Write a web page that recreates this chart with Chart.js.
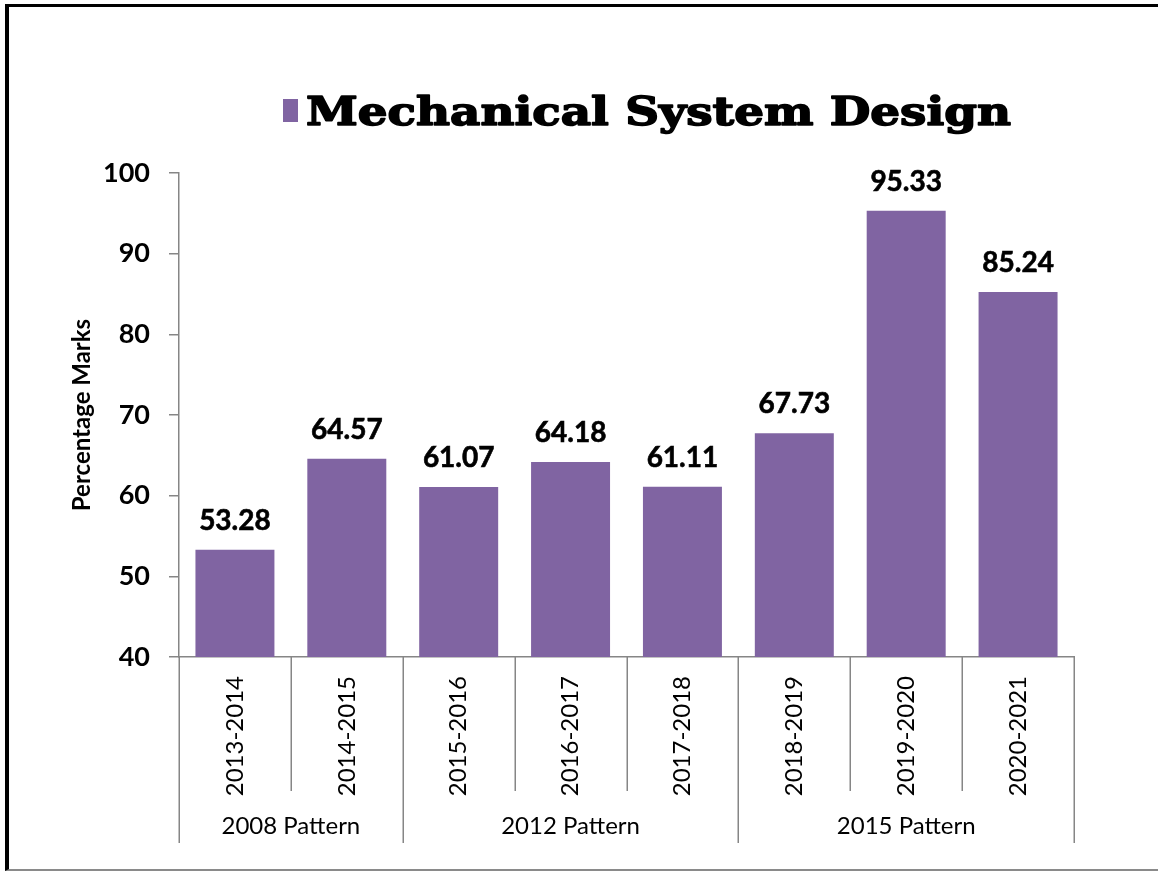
<!DOCTYPE html>
<html>
<head>
<meta charset="utf-8">
<script src="https://cdn.jsdelivr.net/npm/chart.js@4.4.1/dist/chart.umd.min.js"></script>
<style>
  html, body { margin: 0; padding: 0; background: #fff; overflow: hidden; }
  #frame { position: absolute; left: 5px; top: 4px; width: 1200px; height: 867px;
           border-left: 4px solid #000; border-top: 3px solid #000; border-bottom: 2px solid #8a8a8a;
           box-sizing: border-box; }
  #c { position: absolute; left: 0; top: 0; }
</style>
</head>
<body>
<div id="frame"></div>
<canvas id="c" width="1158" height="876"></canvas>
<script>
const categories = ['2013-2014', '2014-2015', '2015-2016', '2016-2017', '2017-2018', '2018-2019', '2019-2020', '2020-2021'];
const values = [53.28, 64.57, 61.07, 64.18, 61.11, 67.73, 95.33, 85.24];
const groupLabels = ['2008 Pattern', '2012 Pattern', '2015 Pattern'];
const groupSpans = [2, 3, 3];
const seriesName = 'Mechanical System Design';
const yMin = 40, yMax = 100, yStep = 10;

const AXIS = '#868686';
const BAR = '#8064A2';

const multiLevelAxis = {
  id: 'multiLevelAxis',
  afterDraw(chart) {
    const ctx = chart.ctx;
    const x = chart.scales.x;
    const top = x.top;
    const n = categories.length;
    const px = i => x.getPixelForTick(i);
    const boundary = i => {
      if (i <= 0) return x.left;
      if (i >= n) return x.right;
      return (px(i - 1) + px(i)) / 2;
    };
    const groupEnds = new Set([0]);
    let acc = 0;
    groupSpans.forEach(s => { acc += s; groupEnds.add(acc); });
    ctx.save();
    ctx.strokeStyle = AXIS;
    ctx.lineWidth = 1.5;
    for (let i = 0; i <= n; i++) {
      const bx = Math.round(boundary(i)) + 0.25;
      ctx.beginPath();
      ctx.moveTo(bx, top);
      ctx.lineTo(bx, groupEnds.has(i) ? 843 : 791);
      ctx.stroke();
    }
    ctx.fillStyle = '#000';
    ctx.font = '24px Lato';
    ctx.textAlign = 'center';
    ctx.textBaseline = 'middle';
    let start = 0;
    groupLabels.forEach((g, k) => {
      const end = start + groupSpans[k];
      const cx = (boundary(start) + boundary(end)) / 2;
      ctx.fillText(g, cx, 826);
      start = end;
    });
    ctx.restore();
  }
};

const valueLabels = {
  id: 'valueLabels',
  afterDatasetsDraw(chart) {
    const ctx = chart.ctx;
    const meta = chart.getDatasetMeta(0);
    ctx.save();
    ctx.fillStyle = '#000';
    ctx.strokeStyle = '#000';
    ctx.lineWidth = 0.6;
    ctx.font = 'bold 28px Lato';
    ctx.textAlign = 'center';
    ctx.textBaseline = 'alphabetic';
    meta.data.forEach((bar, i) => {
      const t = values[i].toFixed(2);
      ctx.fillText(t, bar.x, bar.y - 20);
      ctx.strokeText(t, bar.x, bar.y - 20);
    });
    ctx.restore();
  }
};

const titleLegend = {
  id: 'titleLegend',
  afterDraw(chart) {
    const ctx = chart.ctx;
    const ds = chart.data.datasets[0];
    ctx.save();
    ctx.fillStyle = ds.backgroundColor;
    ctx.fillRect(283, 99, 15, 23);
    ctx.fillStyle = '#000';
    ctx.strokeStyle = '#000';
    ctx.lineWidth = 1.6;
    ctx.lineJoin = 'round';
    ctx.font = 'bold 40px "DejaVu Serif"';
    ctx.textAlign = 'left';
    ctx.textBaseline = 'alphabetic';
    const w = ctx.measureText(ds.label).width;
    const targetW = 705;
    ctx.translate(306, 125);
    ctx.scale(targetW / w, 1);
    ctx.fillText(ds.label, 0, 0);
    ctx.strokeText(ds.label, 0, 0);
    ctx.restore();
  }
};

new Chart(document.getElementById('c'), {
  type: 'bar',
  data: {
    labels: categories,
    datasets: [{
      label: seriesName,
      data: values,
      backgroundColor: BAR,
      borderWidth: 0,
      barPercentage: 0.706,
      categoryPercentage: 1
    }]
  },
  options: {
    responsive: false,
    animation: false,
    devicePixelRatio: 1,
    layout: { padding: { top: 173, bottom: 0, left: 0, right: 84 } },
    plugins: { legend: { display: false }, tooltip: { enabled: false } },
    scales: {
      x: {
        grid: { display: false, drawTicks: false },
        border: { display: true, color: AXIS, width: 1.5 },
        ticks: {
          minRotation: 90, maxRotation: 90, autoSkip: false, padding: 19,
          color: '#000', font: { family: 'Lato', size: 24 }
        },
        afterFit: s => { s.height = 219; }
      },
      y: {
        min: yMin, max: yMax,
        ticks: {
          stepSize: yStep, padding: 19, color: '#000',
          font: { family: 'Lato', size: 27, weight: 'bold' }
        },
        grid: { drawOnChartArea: false, drawTicks: true, tickLength: 10, color: AXIS, lineWidth: 1.5 },
        border: { display: true, color: AXIS, width: 1.5 },
        title: {
          display: true, text: 'Percentage Marks', color: '#000',
          font: { family: 'Lato', size: 24, weight: 'bold' },
          padding: { top: 68, bottom: 0 }
        },
        afterFit: s => { s.width = 179; }
      }
    }
  },
  plugins: [multiLevelAxis, valueLabels, titleLegend]
});
</script>
</body>
</html>
